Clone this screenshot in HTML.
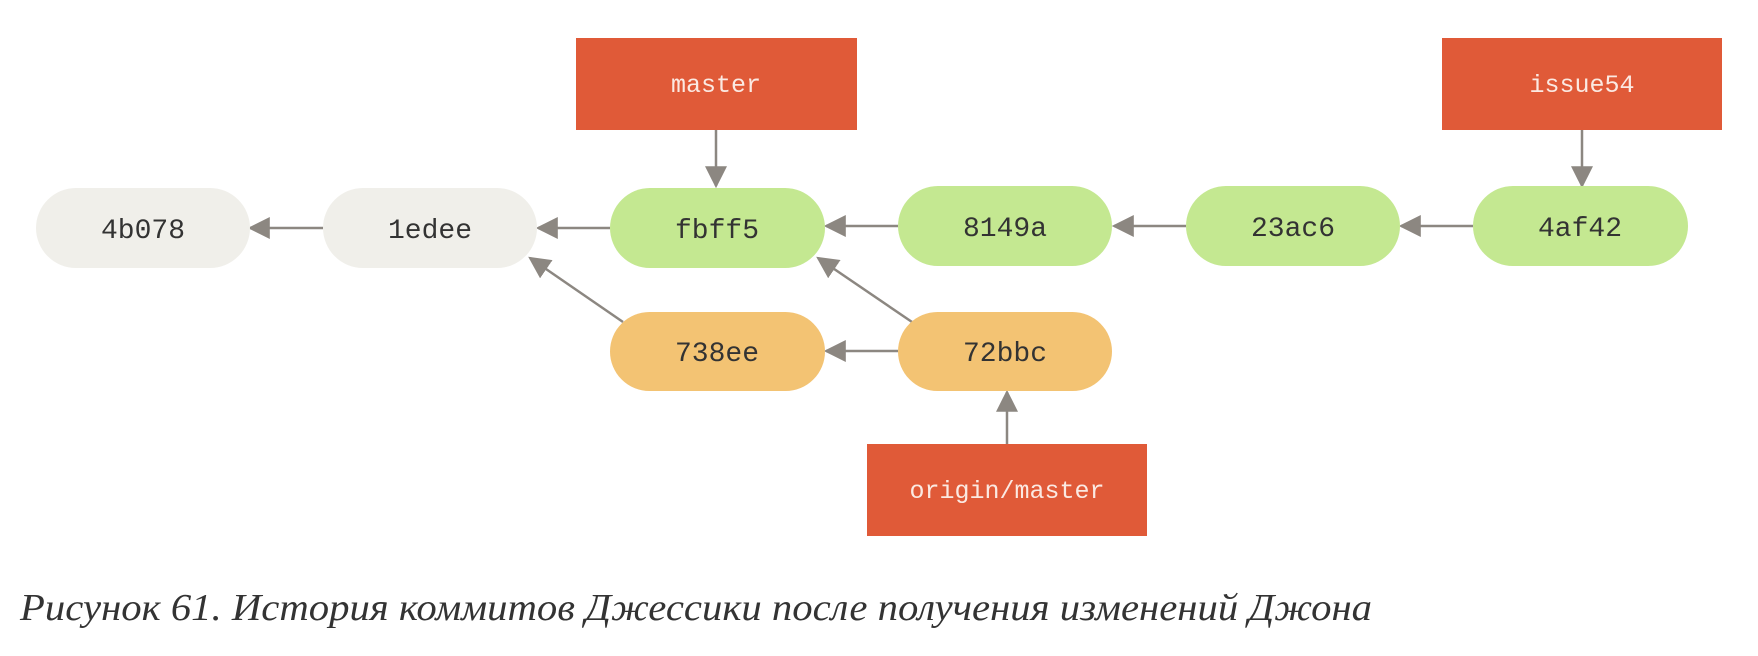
<!DOCTYPE html>
<html><head><meta charset="utf-8"><style>
html,body{margin:0;padding:0;background:#fff;width:1758px;height:656px;overflow:hidden}
</style></head><body>
<svg width="1758" height="656" viewBox="0 0 1758 656" xmlns="http://www.w3.org/2000/svg">
<defs>
<marker id="a" viewBox="0 0 10 10" refX="9" refY="5" markerWidth="22" markerHeight="22" markerUnits="userSpaceOnUse" orient="auto">
<path d="M0,0 L10,5 L0,10 z" fill="#8c8781"/>
</marker>
</defs>
<g stroke="#8c8781" stroke-width="2.5" fill="none" marker-end="url(#a)">
<line x1="323" y1="228" x2="250" y2="228"/>
<line x1="610" y1="228" x2="538" y2="228"/>
<line x1="898" y1="226" x2="826" y2="226"/>
<line x1="1186" y1="226" x2="1114" y2="226"/>
<line x1="1473" y1="226" x2="1401" y2="226"/>
<line x1="898" y1="351" x2="826" y2="351"/>
<line x1="623" y1="322" x2="530" y2="258"/>
<line x1="912" y1="322" x2="818" y2="258"/>
<line x1="716" y1="130" x2="716" y2="186"/>
<line x1="1582" y1="130" x2="1582" y2="186"/>
<line x1="1007" y1="444" x2="1007" y2="392"/>
</g>
<g font-family="'Liberation Mono', monospace" font-size="28" text-anchor="middle" fill="#333">
<rect x="36" y="188" width="214" height="80" rx="40" fill="#f0efea"/>
<text x="143" y="238">4b078</text>
<rect x="323" y="188" width="214" height="80" rx="40" fill="#f0efea"/>
<text x="430" y="238">1edee</text>
<rect x="610" y="188" width="215" height="80" rx="40" fill="#c4e891"/>
<text x="717" y="238">fbff5</text>
<rect x="898" y="186" width="214" height="80" rx="40" fill="#c4e891"/>
<text x="1005" y="236">8149a</text>
<rect x="1186" y="186" width="214" height="80" rx="40" fill="#c4e891"/>
<text x="1293" y="236">23ac6</text>
<rect x="1473" y="186" width="215" height="80" rx="40" fill="#c4e891"/>
<text x="1580" y="236">4af42</text>
<rect x="610" y="312" width="215" height="79" rx="39.5" fill="#f3c373"/>
<text x="717" y="361">738ee</text>
<rect x="898" y="312" width="214" height="79" rx="39.5" fill="#f3c373"/>
<text x="1005" y="361">72bbc</text>
</g>
<g font-family="'Liberation Mono', monospace" font-size="25" text-anchor="middle" fill="#fbe9e2">
<rect x="576" y="38" width="281" height="92" fill="#e05a38"/>
<text x="716" y="92">master</text>
<rect x="1442" y="38" width="280" height="92" fill="#e05a38"/>
<text x="1582" y="92">issue54</text>
<rect x="867" y="444" width="280" height="92" fill="#e05a38"/>
<text x="1007" y="498">origin/master</text>
</g>
<text x="20" y="620" font-family="'Liberation Serif', serif" font-style="italic" font-size="38" fill="#333" textLength="1352" lengthAdjust="spacingAndGlyphs">Рисунок 61. История коммитов Джессики после получения изменений Джона</text>
</svg>
</body></html>
